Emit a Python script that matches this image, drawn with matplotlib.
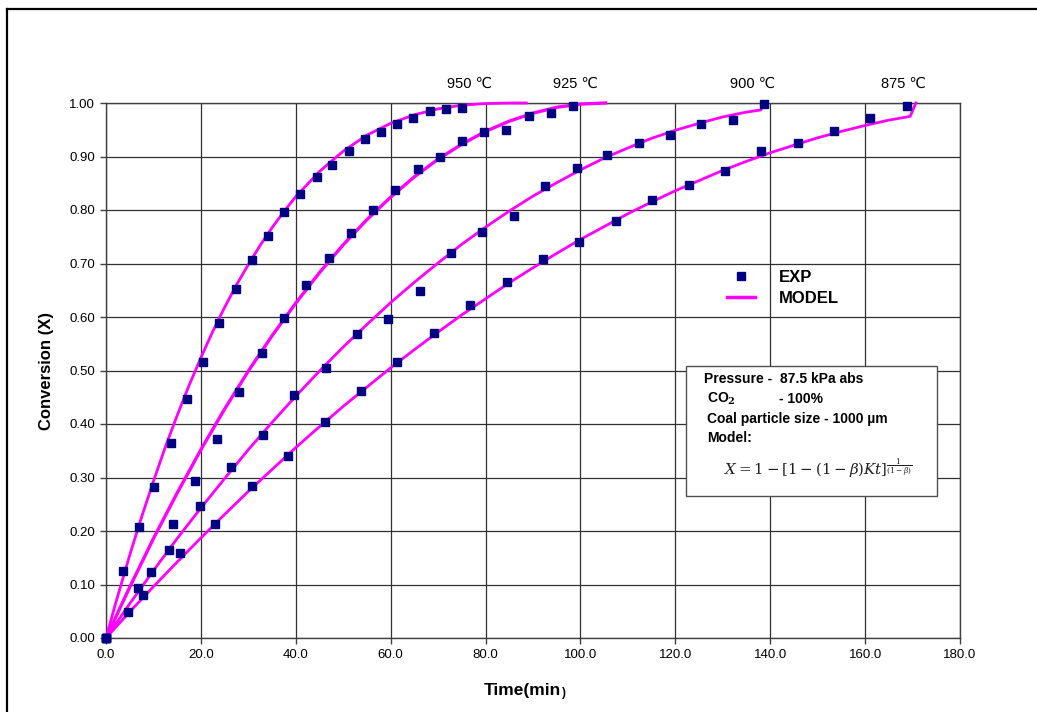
import matplotlib
matplotlib.use("Agg")
import matplotlib.pyplot as plt
from matplotlib.lines import Line2D
from matplotlib.patches import Rectangle

plt.rcParams['font.family'] = ['Liberation Sans', 'DejaVu Sans']
plt.rcParams['mathtext.fontset'] = 'dejavuserif'

# ---------------- data ----------------
# Experimental points (time in min, conversion X)
t950 = [0, 3.6, 6.9, 10.2, 13.8, 17.0, 20.4, 23.9, 27.4, 30.7, 34.1, 37.6, 40.9,
        44.4, 47.7, 51.2, 54.6, 57.9, 61.4, 64.8, 68.2, 71.6, 75.0]
x950 = [0, 0.125, 0.207, 0.282, 0.365, 0.446, 0.515, 0.588, 0.652, 0.707, 0.751,
        0.796, 0.830, 0.862, 0.884, 0.910, 0.932, 0.946, 0.961, 0.972, 0.985, 0.988, 0.990]

t925 = [0, 4.7, 9.4, 14.1, 18.8, 23.5, 28.1, 32.8, 37.6, 42.2, 46.9, 51.6, 56.2,
        61.0, 65.7, 70.3, 75.0, 79.7, 84.4, 89.1, 93.8, 98.5]
x925 = [0, 0.049, 0.123, 0.214, 0.294, 0.372, 0.460, 0.532, 0.598, 0.660, 0.710,
        0.757, 0.800, 0.837, 0.877, 0.899, 0.929, 0.945, 0.950, 0.976, 0.981, 0.994]

t900 = [0, 6.75, 13.3, 19.9, 26.4, 33.1, 39.7, 46.3, 52.9, 59.5, 66.1, 72.7, 79.2,
        85.9, 92.5, 99.2, 105.7, 112.3, 118.8, 125.4, 132.1, 138.7]
x900 = [0, 0.094, 0.164, 0.247, 0.320, 0.379, 0.454, 0.505, 0.568, 0.596, 0.649,
        0.720, 0.758, 0.789, 0.844, 0.879, 0.902, 0.926, 0.940, 0.961, 0.969, 0.999]

t875 = [0, 7.7, 15.5, 23.0, 30.7, 38.3, 46.1, 53.8, 61.4, 69.2, 76.8, 84.5, 92.1,
        99.8, 107.5, 115.1, 122.8, 130.4, 138.1, 145.8, 153.4, 161.1, 168.8]
x875 = [0, 0.080, 0.158, 0.214, 0.285, 0.340, 0.403, 0.461, 0.515, 0.570, 0.622,
        0.665, 0.708, 0.740, 0.779, 0.819, 0.847, 0.872, 0.910, 0.926, 0.948, 0.972, 0.995]

# Model curves
mt950 = [0, 2, 5, 7.5, 10, 12.5, 15, 17.5, 20, 22.5, 25, 27.5, 30, 32.5, 35, 37.5,
         40, 45, 50, 55, 60, 65, 70, 75, 80, 85, 88.6]
mx950 = [0, 0.064, 0.155, 0.226, 0.293, 0.357, 0.416, 0.472, 0.524, 0.573, 0.618,
         0.660, 0.698, 0.734, 0.767, 0.797, 0.825, 0.872, 0.910, 0.940, 0.962, 0.978,
         0.989, 0.996, 0.999, 1.0, 1.0]

mt925 = [0, 5, 10, 15, 20, 25, 30, 35, 40, 45, 50, 55, 60, 65, 70, 75, 80, 85, 90,
         95, 100, 105.3]
mx925 = [0, 0.095, 0.186, 0.271, 0.352, 0.428, 0.499, 0.565, 0.626, 0.683, 0.735,
         0.782, 0.824, 0.862, 0.895, 0.923, 0.947, 0.966, 0.981, 0.992, 0.998, 1.0]

mt900 = [0, 5, 10, 15, 20, 25, 30, 35, 40, 45, 50, 55, 60, 65, 70, 75, 80, 85, 90,
         95, 100, 105, 110, 115, 120, 125, 130, 135, 138, 138.7]
mx900 = [0, 0.064, 0.126, 0.186, 0.243, 0.298, 0.352, 0.403, 0.452, 0.499, 0.544,
         0.586, 0.627, 0.665, 0.701, 0.736, 0.768, 0.798, 0.826, 0.851, 0.875, 0.897,
         0.916, 0.934, 0.949, 0.962, 0.974, 0.983, 0.987, 1.0]

mt875 = [0, 5, 10, 15, 20, 25, 30, 35, 40, 45, 50, 55, 60, 65, 70, 75, 80, 85, 90,
         95, 100, 105, 110, 115, 120, 125, 130, 135, 140, 145, 150, 155, 160, 165,
         169.5, 170.7]
mx875 = [0, 0.049, 0.096, 0.142, 0.187, 0.231, 0.274, 0.315, 0.356, 0.395, 0.433,
         0.469, 0.505, 0.539, 0.572, 0.604, 0.634, 0.664, 0.692, 0.719, 0.745, 0.769,
         0.793, 0.815, 0.836, 0.855, 0.874, 0.891, 0.907, 0.921, 0.935, 0.947, 0.958,
         0.968, 0.975, 1.0]

temp_labels = ['950 \u2103', '925 \u2103', '900 \u2103', '875 \u2103']
temp_label_x = [76.7, 98.9, 136.2, 168.0]

xticks = [0, 20, 40, 60, 80, 100, 120, 140, 160, 180]
yticks = [0.0, 0.1, 0.2, 0.3, 0.4, 0.5, 0.6, 0.7, 0.8, 0.9, 1.0]

# ---------------- figure ----------------
W, H = 1037, 712
fig = plt.figure(figsize=(W / 100, H / 100), dpi=100)


def fx(px):
    return px / W


def fy(py):
    return 1 - py / H


ax = fig.add_axes([fx(106), fy(638), fx(960) - fx(106), fy(103) - fy(638)])
ax.set_xlim(0, 180)
ax.set_ylim(0, 1.0)
ax.set_xticks(xticks)
ax.set_yticks(yticks)
ax.set_xticklabels([f"{v:.1f}" for v in xticks])
ax.set_yticklabels([f"{v:.2f}" for v in yticks])
ax.tick_params(axis='both', labelsize=9.5, direction='out', length=4, width=1,
               color='#404040', pad=4)
ax.grid(True, color='#303030', linewidth=0.9)
ax.set_axisbelow(True)
for s in ax.spines.values():
    s.set_color('#404040')
    s.set_linewidth(1.0)

mcol = '#FF00FF'
pcol = '#000080'
for mt, mx, lw in [(mt950, mx950, 2.0), (mt925, mx925, 2.4), (mt900, mx900, 2.0),
                   (mt875, mx875, 2.0)]:
    ax.plot(mt, mx, color=mcol, lw=lw, zorder=3, clip_on=False,
            solid_joinstyle='round')
for t, x in [(t950, x950), (t925, x925), (t900, x900), (t875, x875)]:
    ax.plot(t, x, linestyle='none', marker='s', markersize=5.2, color=pcol,
            markeredgecolor=pcol, zorder=4, clip_on=False)

for lab, xv in zip(temp_labels, temp_label_x):
    ax.text(xv, 1.036, lab, ha='center', va='center', fontsize=10.5, clip_on=False)

ax.set_ylabel('Conversion (X)', fontsize=12, fontweight='bold', labelpad=11)
fig.text(fx(522), fy(691), 'Time(min', fontsize=12.5, fontweight='bold',
         ha='center', va='center')
fig.text(fx(562), fy(693), ')', fontsize=8.5, fontweight='bold',
         ha='left', va='center')

# legend
handles = [Line2D([], [], linestyle='none', marker='s', markersize=5.2, color=pcol),
           Line2D([], [], color=mcol, lw=2.5)]
leg = ax.legend(handles, ['EXP', 'MODEL'], frameon=False, loc='upper left',
                bbox_to_anchor=(fx(727), fy(270)), bbox_transform=fig.transFigure,
                prop={'size': 12, 'weight': 'bold'}, handlelength=1.65,
                handletextpad=1.45, labelspacing=0.35, borderpad=0, borderaxespad=0)

# text box
fig.patches.append(Rectangle((fx(686), fy(496)), fx(937) - fx(686), fy(366) - fy(496),
                             transform=fig.transFigure, facecolor='white',
                             edgecolor='#505050', linewidth=1.0, zorder=5))
tb = dict(fontsize=10, fontweight='bold', ha='left', va='center', zorder=6)
fig.text(fx(704), fy(379), 'Pressure -  87.5 kPa abs', **tb)
fig.text(fx(707), fy(399), 'CO$_\\mathbf{2}$', **tb)
fig.text(fx(779), fy(399), '- 100%', **tb)
fig.text(fx(707), fy(419), 'Coal particle size - 1000 \u00b5m', **tb)
fig.text(fx(707), fy(438), 'Model:', **tb)
fig.text(fx(818), fy(469),
         r'$X = 1 - [1 - (1-\beta)Kt]^{\frac{1}{(1-\beta)}}$',
         fontsize=10.8, ha='center', va='center', zorder=6, color='#202020')

# outer frame
fig.add_artist(Line2D([fx(7), fx(7)], [fy(712), fy(9)], color='black', lw=1.6,
                      transform=fig.transFigure))
fig.add_artist(Line2D([fx(7), fx(1037)], [fy(9), fy(9)], color='black', lw=1.6,
                      transform=fig.transFigure))

fig.savefig('out.png', dpi=100)
